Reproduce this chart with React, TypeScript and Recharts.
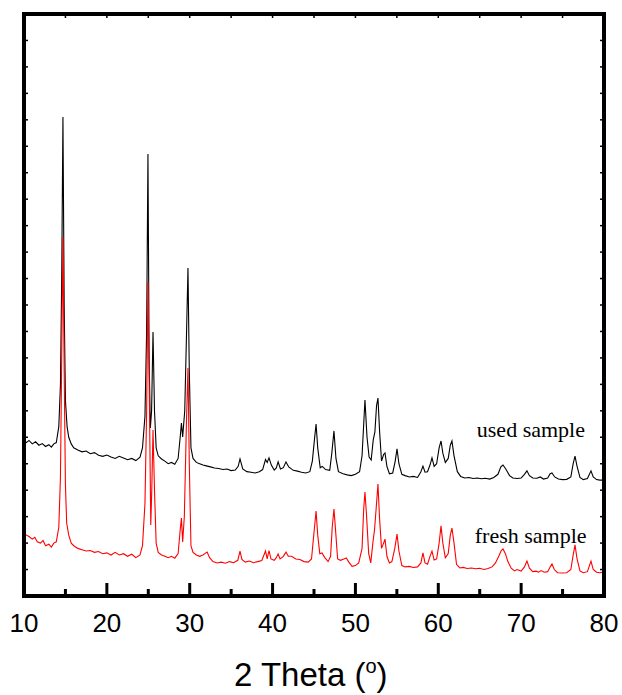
import React from 'react';
import { LineChart, Line, XAxis, YAxis, ReferenceDot } from 'recharts';

// 2 theta (deg) vs intensity (a.u.)
const usedPattern: [number, number][] = [
  [10.0, 590], [10.3, 580], [10.6, 588], [11.0, 575], [11.4, 583], [11.8, 570],
  [12.2, 576], [12.6, 565], [13.0, 572], [13.3, 563], [13.6, 575], [13.9, 580],
  [14.2, 640], [14.4, 800], [14.55, 1200], [14.7, 1811], [14.85, 1100], [15.0, 740],
  [15.2, 640], [15.4, 600], [15.7, 575], [16.0, 560], [16.5, 552], [17.0, 545],
  [17.5, 548], [18.0, 538], [18.5, 542], [19.0, 532], [19.5, 528], [20.0, 533],
  [20.5, 525], [21.0, 520], [21.5, 528], [22.0, 522], [22.5, 515], [23.0, 520],
  [23.5, 512], [24.0, 525], [24.3, 560], [24.6, 680], [24.8, 1000], [24.96, 1671],
  [25.1, 900], [25.25, 635], [25.4, 700], [25.57, 998], [25.75, 700], [25.95, 560],
  [26.2, 530], [26.6, 518], [27.0, 510], [27.4, 500], [27.8, 505], [28.2, 498],
  [28.6, 520], [28.85, 600], [29.0, 654], [29.15, 601], [29.4, 700], [29.62, 1000],
  [29.79, 1240], [29.95, 850], [30.15, 560], [30.4, 520], [30.8, 505], [31.2, 500],
  [31.6, 495], [32.0, 492], [32.5, 488], [33.0, 484], [33.5, 482], [34.0, 478],
  [34.5, 480], [35.0, 474], [35.5, 476], [35.85, 490], [36.07, 518], [36.4, 480],
  [36.9, 470], [37.4, 468], [37.9, 465], [38.4, 470], [38.8, 478], [39.15, 516],
  [39.35, 505], [39.57, 522], [39.85, 495], [40.2, 476], [40.45, 484], [40.67, 507],
  [40.95, 480], [41.3, 485], [41.62, 507], [41.95, 488], [42.5, 475], [43.0, 472],
  [43.5, 468], [44.0, 465], [44.5, 470], [44.8, 510], [45.05, 590], [45.25, 650],
  [45.45, 560], [45.75, 485], [46.0, 490], [46.4, 478], [46.9, 475], [47.15, 540],
  [47.41, 624], [47.65, 520], [47.95, 470], [48.5, 462], [49.0, 458], [49.5, 455],
  [50.0, 460], [50.5, 470], [50.8, 530], [51.0, 650], [51.15, 741], [51.4, 600],
  [51.65, 525], [51.9, 514], [52.15, 590], [52.35, 620], [52.55, 720], [52.72, 748],
  [52.92, 620], [53.15, 510], [53.4, 535], [53.57, 541], [53.8, 490], [54.1, 462],
  [54.5, 465], [54.8, 510], [55.02, 556], [55.25, 500], [55.6, 460], [56.0, 455],
  [56.5, 450], [57.0, 452], [57.5, 448], [57.9, 470], [58.15, 491], [58.4, 468],
  [58.7, 470], [59.0, 495], [59.24, 522], [59.5, 490], [59.8, 500], [60.1, 560],
  [60.33, 586], [60.55, 540], [60.85, 505], [61.2, 520], [61.45, 570], [61.65, 586],
  [61.9, 530], [62.3, 470], [62.7, 452], [63.2, 446], [63.7, 448], [64.2, 444],
  [64.7, 446], [65.2, 443], [65.7, 445], [66.2, 442], [66.7, 448], [67.2, 460],
  [67.55, 488], [67.81, 495], [68.15, 480], [68.6, 455], [69.0, 446], [69.5, 444],
  [70.0, 446], [70.4, 460], [70.7, 473], [71.0, 455], [71.4, 446], [71.9, 445],
  [72.3, 450], [72.7, 442], [73.2, 446], [73.5, 462], [73.72, 465], [74.05, 450],
  [74.5, 442], [75.0, 440], [75.5, 441], [76.0, 450], [76.28, 500], [76.5, 529],
  [76.75, 490], [77.1, 448], [77.5, 440], [78.0, 444], [78.43, 473], [78.7, 450],
  [79.1, 440], [79.5, 438], [80.0, 438],
];

const freshPattern: [number, number][] = [
  [10.0, 238], [10.3, 230], [10.6, 225], [11.0, 215], [11.3, 222], [11.6, 205],
  [12.0, 200], [12.3, 210], [12.6, 190], [13.0, 196], [13.3, 185], [13.6, 200],
  [13.9, 205], [14.2, 260], [14.4, 450], [14.55, 900], [14.7, 1357], [14.85, 850],
  [15.0, 420], [15.15, 276], [15.4, 230], [15.7, 200], [16.0, 190], [16.5, 180],
  [17.0, 175], [17.5, 170], [18.0, 172], [18.5, 165], [19.0, 168], [19.5, 160],
  [20.0, 163], [20.5, 155], [21.0, 165], [21.5, 155], [22.0, 160], [22.5, 150],
  [23.0, 158], [23.5, 145], [24.0, 155], [24.3, 190], [24.6, 350], [24.8, 700],
  [24.96, 1187], [25.15, 700], [25.3, 268], [25.42, 400], [25.57, 627], [25.75, 400],
  [25.95, 200], [26.2, 165], [26.6, 155], [27.0, 150], [27.4, 145], [27.8, 150],
  [28.2, 143], [28.6, 160], [28.85, 250], [29.0, 295], [29.15, 204], [29.35, 300],
  [29.6, 650], [29.79, 862], [29.95, 500], [30.15, 190], [30.4, 165], [30.8, 155],
  [31.2, 150], [31.6, 155], [31.9, 162], [32.1, 166], [32.4, 145], [32.8, 130],
  [33.3, 125], [33.8, 128], [34.3, 124], [34.8, 130], [35.3, 126], [35.8, 135],
  [36.07, 170], [36.3, 138], [36.7, 128], [37.2, 132], [37.7, 126], [38.2, 130],
  [38.7, 134], [39.15, 170], [39.35, 140], [39.57, 172], [39.8, 140], [40.2, 135],
  [40.45, 145], [40.67, 159], [40.9, 140], [41.3, 150], [41.62, 166], [41.9, 150],
  [42.3, 150], [42.8, 140], [43.3, 138], [43.8, 130], [44.3, 128], [44.7, 140],
  [45.0, 240], [45.25, 321], [45.45, 230], [45.7, 160], [45.97, 163], [46.3, 145],
  [46.7, 130], [47.0, 150], [47.2, 260], [47.41, 329], [47.6, 250], [47.85, 140],
  [48.2, 135], [48.6, 140], [48.9, 144], [49.2, 128], [49.6, 112], [50.0, 115],
  [50.4, 125], [50.8, 180], [51.0, 330], [51.15, 393], [51.35, 300], [51.6, 160],
  [51.85, 125], [52.1, 200], [52.3, 249], [52.5, 330], [52.72, 423], [52.9, 300],
  [53.15, 180], [53.4, 200], [53.57, 215], [53.8, 150], [54.1, 125], [54.4, 130],
  [54.75, 180], [55.02, 234], [55.25, 170], [55.6, 115], [56.0, 110], [56.5, 112],
  [57.0, 108], [57.5, 110], [57.9, 125], [58.15, 163], [58.4, 125], [58.7, 120],
  [59.0, 150], [59.24, 170], [59.5, 136], [59.8, 140], [60.1, 200], [60.33, 265],
  [60.55, 200], [60.85, 144], [61.2, 160], [61.45, 230], [61.65, 257], [61.9, 200],
  [62.2, 120], [62.6, 106], [63.0, 108], [63.5, 104], [64.0, 106], [64.5, 103],
  [65.0, 105], [65.5, 100], [66.0, 104], [66.5, 110], [66.9, 125], [67.3, 150],
  [67.6, 172], [67.81, 178], [68.1, 160], [68.4, 130], [68.8, 105], [69.2, 95],
  [69.5, 100], [70.0, 94], [70.4, 110], [70.7, 132], [71.0, 105], [71.4, 92],
  [71.8, 94], [72.1, 90], [72.4, 96], [72.8, 90], [73.2, 92], [73.5, 110],
  [73.72, 121], [74.0, 100], [74.4, 88], [75.0, 87], [75.5, 88], [76.0, 100],
  [76.25, 150], [76.5, 193], [76.75, 140], [77.1, 95], [77.5, 88], [78.0, 92],
  [78.43, 132], [78.7, 100], [79.1, 90], [79.5, 88], [80.0, 91],
];

const thetaTicks = [10, 15, 20, 25, 30, 35, 40, 45, 50, 55, 60, 65, 70, 75, 80];
const thetaLabels = [10, 20, 30, 40, 50, 60, 70, 80];
const countTicks = Array.from({ length: 23 }, (_, i) => i * 100);

const toRows = (p: [number, number][]) => p.map(([theta, counts]) => ({ theta, counts }));
const usedRows = toRows(usedPattern);
const freshRows = toRows(freshPattern);

const sans = 'Liberation Sans, Arial, sans-serif';
const serif = 'Liberation Serif, Times New Roman, serif';
const frame = { stroke: '#000', strokeWidth: 4, strokeLinecap: 'square' as const };

const BottomTick = ({ x, y, payload }: any) => {
  const major = thetaLabels.includes(payload.value);
  return (
    <g>
      <line x1={x} x2={x} y1={y} y2={y - (major ? 13 : 7)} stroke="#000" strokeWidth={3} />
      {major && (
        <text x={x} y={y + 36} textAnchor="middle" fontSize={26} fontFamily={sans} fill="#000">
          {payload.value}
        </text>
      )}
    </g>
  );
};

const TopTick = ({ x, y }: any) => (
  <line x1={x} x2={x} y1={y} y2={y + 4} stroke="#000" strokeWidth={1.5} />
);
const LeftTick = ({ x, y }: any) => (
  <line x1={x} x2={x + 4} y1={y} y2={y} stroke="#000" strokeWidth={1.5} />
);
const RightTick = ({ x, y }: any) => (
  <line x1={x} x2={x - 4} y1={y} y2={y} stroke="#000" strokeWidth={1.5} />
);

const sampleLabel = (text: string) => ({ viewBox }: any) => (
  <text x={viewBox.x} y={viewBox.y} fontSize={22} fontFamily={serif} fill="#000">
    {text}
  </text>
);

const AxisTitle = () => (
  <text x={234} y={686} fontSize={33} fontFamily={sans} fill="#000">
    2 Theta (
    <tspan fontSize={20} dy={-13}>o</tspan>
    <tspan dy={13}>)</tspan>
  </text>
);

export default function App() {
  return (
    <div style={{ position: 'absolute', left: 0, top: 0, background: '#fff' }}>
      <LineChart width={622} height={695} margin={{ top: 4, right: 8, bottom: 59, left: 14 }}>
        <XAxis
          type="number"
          dataKey="theta"
          domain={[10, 80]}
          ticks={thetaTicks}
          interval={0}
          axisLine={frame}
          tickLine={false}
          tickSize={0}
          tickMargin={0}
          tick={<BottomTick />}
          height={40}
          label={<AxisTitle />}
        />
        <XAxis
          xAxisId="top"
          orientation="top"
          type="number"
          dataKey="theta"
          domain={[10, 80]}
          ticks={thetaTicks.slice(1, -1)}
          interval={0}
          axisLine={frame}
          tickLine={false}
          tickSize={0}
          tickMargin={0}
          tick={<TopTick />}
          height={10}
        />
        <YAxis
          type="number"
          domain={[0, 2200]}
          ticks={countTicks}
          interval={0}
          axisLine={frame}
          tickLine={false}
          tickSize={0}
          tickMargin={0}
          tick={<LeftTick />}
          width={10}
        />
        <YAxis
          yAxisId="right"
          orientation="right"
          type="number"
          domain={[0, 2200]}
          ticks={countTicks}
          interval={0}
          axisLine={frame}
          tickLine={false}
          tickSize={0}
          tickMargin={0}
          tick={<RightTick />}
          width={10}
        />
        {/* invisible copy so the top and right frame axes get ticks */}
        <Line
          xAxisId="top"
          yAxisId="right"
          data={usedRows}
          dataKey="counts"
          stroke="none"
          dot={false}
          legendType="none"
          isAnimationActive={false}
        />
        <Line
          data={usedRows}
          dataKey="counts"
          name="used sample"
          type="linear"
          stroke="#000"
          strokeWidth={1.1}
          dot={false}
          isAnimationActive={false}
        />
        <Line
          data={freshRows}
          dataKey="counts"
          name="fresh sample"
          type="linear"
          stroke="#ff0000"
          strokeWidth={1.1}
          dot={false}
          isAnimationActive={false}
        />
        <ReferenceDot x={64.65} y={601} r={0} fill="none" stroke="none" ifOverflow="visible" label={sampleLabel('used sample')} />
        <ReferenceDot x={64.4} y={200} r={0} fill="none" stroke="none" ifOverflow="visible" label={sampleLabel('fresh sample')} />
      </LineChart>
    </div>
  );
}
